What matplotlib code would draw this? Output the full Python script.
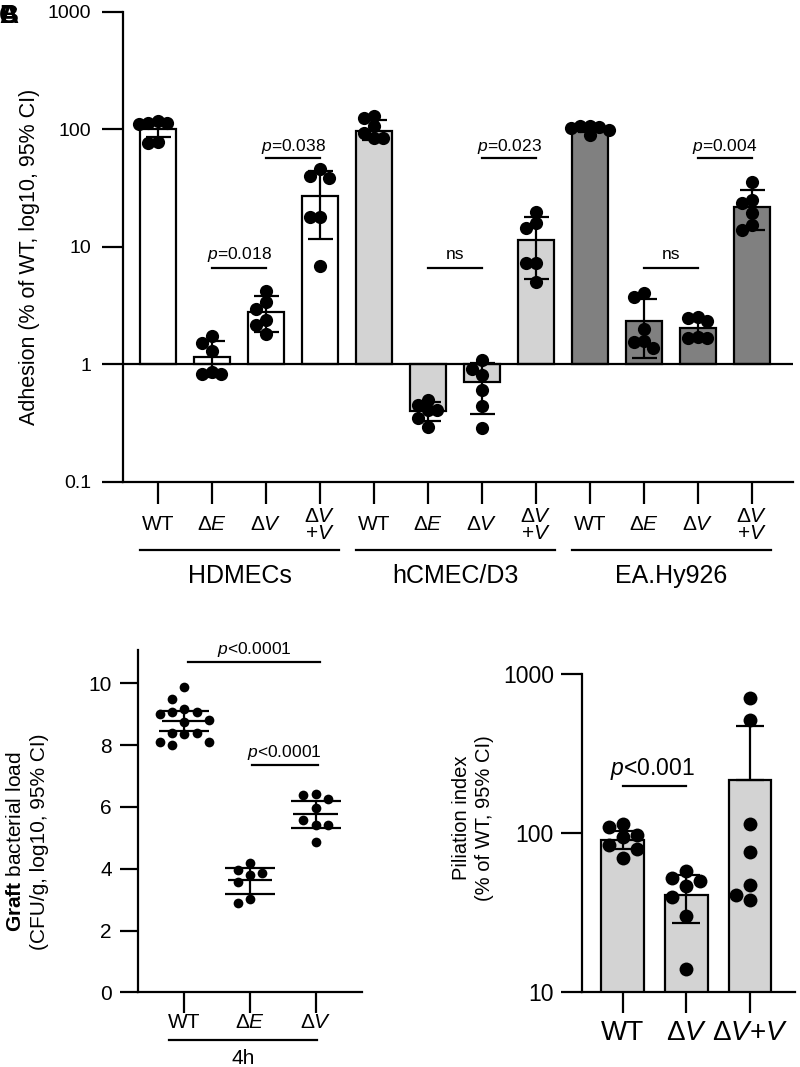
import numpy as np
import matplotlib
matplotlib.use('Agg')
import matplotlib.pyplot as plt
from matplotlib.transforms import blended_transform_factory
from matplotlib.ticker import NullLocator

plt.rcParams['font.family'] = ['Liberation Sans', 'DejaVu Sans']
plt.rcParams['mathtext.fontset'] = 'custom'
plt.rcParams['mathtext.rm'] = 'Liberation Sans'
plt.rcParams['mathtext.it'] = 'Liberation Sans:italic'
plt.rcParams['mathtext.bf'] = 'Liberation Sans:bold'

## Adhesion on three endothelial cell lines (% of WT)
adh_labels = ['WT', r'Δ$\mathit{E}$', r'Δ$\mathit{V}$', 'Δ$\\mathit{V}$\n+$\\mathit{V}$'] * 3
cell_lines = ['HDMECs', 'hCMEC/D3', 'EA.Hy926']
adh_mean = [100, 1.15, 2.79, 27.3, 97, 0.40, 0.70, 11.5, 99, 2.35, 2.03, 21.7]
adh_lo = [86, 0.78, 1.87, 11.6, 82, 0.33, 0.375, 5.3, 95, 1.12, 1.75, 13.9]
adh_hi = [116, 1.58, 3.82, 44.3, 120, 0.48, 1.02, 17.9, 104, 3.58, 2.35, 30.5]
adh_pts = [
    [117, 114, 113, 112, 78, 76],
    [1.74, 1.51, 1.30, 0.86, 0.83, 0.82],
    [4.24, 3.4, 2.98, 2.38, 2.15, 1.80],
    [45.8, 40.2, 38.4, 18.1, 18.1, 6.9],
    [130, 124, 106, 93, 84, 84],
    [0.50, 0.45, 0.41, 0.41, 0.35, 0.29],
    [1.09, 0.92, 0.81, 0.60, 0.44, 0.285],
    [20.0, 15.9, 14.4, 7.25, 7.25, 5.05],
    [107, 106, 105, 102, 98, 90],
    [4.03, 3.77, 1.99, 1.59, 1.54, 1.37],
    [2.51, 2.46, 2.35, 1.72, 1.69, 1.69],
    [35.9, 25.1, 23.8, 19.3, 15.4, 13.9],
]
adh_sig = [(1, 2, 'low', r'$\mathit{p}$=0.018'), (2, 3, 'high', r'$\mathit{p}$=0.038'),
           (5, 6, 'low', 'ns'), (6, 7, 'high', r'$\mathit{p}$=0.023'),
           (9, 10, 'low', 'ns'), (10, 11, 'high', r'$\mathit{p}$=0.004')]

## Graft bacterial load at 4h
graft_labels = ['WT', r'Δ$\mathit{E}$', r'Δ$\mathit{V}$']
graft_mean = [8.78, 3.63, 5.78]
graft_lo = [8.47, 3.17, 5.31]
graft_hi = [9.11, 4.03, 6.19]
graft_pts = [
    [9.87, 9.51, 9.17, 9.08, 9.08, 9.01, 8.8, 8.75, 8.4, 8.4, 8.35, 8.1, 8.1, 8.0],
    [4.19, 3.96, 3.85, 3.80, 3.58, 3.01, 2.88],
    [6.41, 6.38, 6.25, 5.95, 5.58, 5.41, 5.40, 4.87],
]

## Piliation index
pil_labels = ['WT', r'Δ$\mathit{V}$', r'Δ$\mathit{V}$+$\mathit{V}$']
pil_mean = [90.4, 40.7, 216]
pil_lo = [79, 27.2, 216]
pil_hi = [103, 54.3, 472]
pil_pts = [
    [113.6, 109.6, 97, 94.9, 84, 78.8, 69.3],
    [57.7, 51.9, 50.1, 46.6, 39.7, 30.0, 14.0],
    [706, 515, 114, 75.5, 47, 40.6, 37.8],
]

W = 800.0
H = 1067.0
LW = 1.6


def box(l, t, r, b):
    return [l / W, 1 - b / H, (r - l) / W, (b - t) / H]


def fy(px):
    return 1 - px / H


def swarm(ax, x0, vals, gap, kmax):
    # beeswarm in pixel space, slots of width gap, at most kmax slots each side
    tr = ax.transData
    unit = tr.transform((1, 1))[0] - tr.transform((0, 1))[0]
    order = [0]
    for k in range(1, kmax + 1):
        order += [-k, k]
    placed = []
    xs = []
    for v in vals:
        yp = tr.transform((x0, v))[1]
        best, best_d = 0, -1
        for k in order:
            xp = k * gap
            d = min([np.hypot(xp - a, yp - b) for a, b in placed] + [1e9])
            if d >= 0.95 * gap:
                best = xp
                break
            if d > best_d:
                best, best_d = xp, d
        placed.append((best, yp))
        xs.append(x0 + best / unit)
    return xs


def style(ax):
    for s in ['top', 'right']:
        ax.spines[s].set_visible(False)
    for s in ['left', 'bottom']:
        ax.spines[s].set_linewidth(LW)


fig = plt.figure(figsize=(8, 10.67), dpi=100)

# ---------------- top panel ----------------
ax = fig.add_axes(box(123, 12, 793, 481.7))
ax.set_yscale('log')
ax.set_xlim(-0.648, 11.76)
ax.set_ylim(0.1, 1000)
style(ax)
x = np.arange(12)
m = np.array(adh_mean)
colors = ['white'] * 4 + ['#d3d3d3'] * 4 + ['#808080'] * 4
ax.bar(x, m - 1, bottom=1, width=0.65, color=colors, edgecolor='k', linewidth=LW, zorder=2)
ax.axhline(1, color='k', lw=LW, zorder=3)
ax.errorbar(x, m, yerr=[m - np.array(adh_lo), np.array(adh_hi) - m], fmt='none',
            ecolor='k', elinewidth=LW, capsize=9, capthick=LW, zorder=4)
for i, pts in enumerate(adh_pts):
    pts = sorted(pts, reverse=True)
    xs = swarm(ax, i, pts, 9.5, 2)
    ax.plot(xs, pts, 'o', color='k', ms=9.5, mew=0, zorder=5, clip_on=False)

ax.set_xticks(x)
ax.set_xticklabels([])
ax.tick_params(axis='x', length=16, width=LW)
ax.set_yticks([0.1, 1, 10, 100, 1000])
ax.set_yticklabels(['0.1', '1', '10', '100', '1000'])
ax.yaxis.set_minor_locator(NullLocator())
ax.tick_params(axis='y', length=15, width=LW, labelsize=14, pad=8)

sig_y = {'low': 6.57, 'high': 57.5}
sig_off = {'low': 7, 'high': 4.5}
for i, j, lev, txt in adh_sig:
    ax.plot([i, j], [sig_y[lev]] * 2, color='k', lw=LW)
    ax.annotate(txt, ((i + j) / 2, sig_y[lev]), xytext=(0, sig_off[lev]),
                textcoords='offset points', ha='center', va='baseline', fontsize=12.5)

tr = blended_transform_factory(ax.transData, fig.transFigure)
for i, lab in enumerate(adh_labels):
    ax.text(i, fy(525), lab, transform=tr, ha='center', va='center', fontsize=15, linespacing=0.9)
for g, name in enumerate(cell_lines):
    a, b = 4 * g - 0.34, 4 * g + 3 + 0.36
    ax.plot([a, b], [fy(549.5)] * 2, transform=tr, color='k', lw=LW, clip_on=False)
    ax.text((a + b) / 2, fy(576), name, transform=tr, ha='center', va='center', fontsize=18)

fig.text(30 / W, fy(257), 'Adhesion (% of WT, log10, 95% CI)', rotation=90,
         ha='center', va='center', fontsize=15.5)

for letter in ['A', 'B', 'C']:
    fig.text(-1 / W, fy(16), letter, fontsize=19, fontweight='bold', ha='left', va='center')

# ---------------- bottom left ----------------
ax2 = fig.add_axes(box(138.3, 650, 362.3, 992.3))
ax2.set_xlim(-0.70, 2.71)
ax2.set_ylim(0, 11.08)
style(ax2)
for i, pts in enumerate(graft_pts):
    pts = sorted(pts, reverse=True)
    xs = swarm(ax2, i, pts, 12.3, 2)
    ax2.plot(xs, pts, 'o', color='k', ms=7, mew=0, zorder=3)
    ax2.hlines(graft_mean[i], i - 0.34, i + 0.34, color='k', lw=LW, zorder=4)
    ax2.errorbar(i, graft_mean[i], yerr=[[graft_mean[i] - graft_lo[i]], [graft_hi[i] - graft_mean[i]]],
                 fmt='none', ecolor='k', elinewidth=LW, capsize=18, capthick=LW, zorder=4)
ax2.set_xticks([0, 1, 2])
ax2.set_xticklabels([])
ax2.tick_params(axis='x', length=15, width=LW)
ax2.set_yticks([0, 2, 4, 6, 8, 10])
ax2.tick_params(axis='y', length=13, width=LW, labelsize=15, pad=6)

ax2.plot([0.06, 2.07], [10.7, 10.7], color='k', lw=LW, clip_on=False)
ax2.annotate(r'$\mathit{p}$<0.0001', (1.06, 10.7), xytext=(0, 5.5), textcoords='offset points',
             ha='center', va='baseline', fontsize=12.5, annotation_clip=False)
ax2.plot([1.03, 2.03], [7.36, 7.36], color='k', lw=LW)
ax2.annotate(r'$\mathit{p}$<0.0001', (1.52, 7.36), xytext=(0, 6), textcoords='offset points',
             ha='center', va='baseline', fontsize=12.5)

tr2 = blended_transform_factory(ax2.transData, fig.transFigure)
for i, lab in enumerate(graft_labels):
    ax2.text(i, fy(1023), lab, transform=tr2, ha='center', va='center', fontsize=15)
ax2.plot([-0.24, 2.02], [fy(1039.5)] * 2, transform=tr2, color='k', lw=LW, clip_on=False)
ax2.text(0.89, fy(1058), '4h', transform=tr2, ha='center', va='center', fontsize=15)

fig.text(27.5 / W, fy(842), '$\\mathbf{Graft}$ bacterial load\n(CFU/g, log10, 95% CI)', rotation=90,
         ha='center', va='center', fontsize=15, linespacing=1.3, multialignment='center')

# ---------------- bottom right ----------------
ax3 = fig.add_axes(box(581.7, 674.3, 795, 991.7))
ax3.set_yscale('log')
ax3.set_xlim(-0.64, 2.70)
ax3.set_ylim(10, 1000)
style(ax3)
m3 = np.array(pil_mean)
ax3.bar([0, 1, 2], m3, width=0.66, color='#d3d3d3', edgecolor='k', linewidth=LW, zorder=2)
ax3.errorbar([0, 1, 2], m3, yerr=[m3 - np.array(pil_lo), np.array(pil_hi) - m3], fmt='none',
             ecolor='k', elinewidth=LW, capsize=10, capthick=LW, zorder=3)
for i, pts in enumerate(pil_pts):
    pts = sorted(pts, reverse=True)
    xs = swarm(ax3, i, pts, 14, 1)
    ax3.plot(xs, pts, 'o', color='k', ms=10, mew=0, zorder=4, clip_on=False)
ax3.set_xticks([0, 1, 2])
ax3.set_xticklabels([])
ax3.tick_params(axis='x', length=15, width=LW)
ax3.set_yticks([10, 100, 1000])
ax3.set_yticklabels(['10', '100', '1000'])
ax3.yaxis.set_minor_locator(NullLocator())
ax3.tick_params(axis='y', length=15, width=LW, labelsize=16.5, pad=5)

ax3.plot([0, 1], [198, 198], color='k', lw=LW)
ax3.annotate(r'$\mathit{p}$<0.001', (0.47, 198), xytext=(0, 8), textcoords='offset points',
             ha='center', va='baseline', fontsize=16.5)

tr3 = blended_transform_factory(ax3.transData, fig.transFigure)
for i, lab in enumerate(pil_labels):
    ax3.text(i, fy(1033), lab, transform=tr3, ha='center', va='center', fontsize=20)

fig.text(473 / W, fy(818), 'Piliation index\n(% of WT, 95% CI)', rotation=90,
         ha='center', va='center', fontsize=14.5, linespacing=1.3, multialignment='center')

fig.savefig('out.png', dpi=100)
